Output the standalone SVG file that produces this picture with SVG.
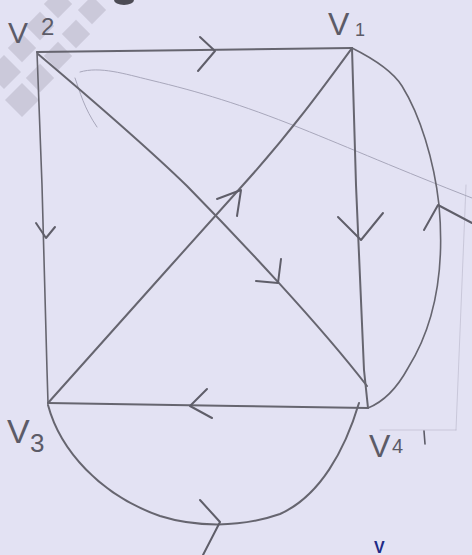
<svg xmlns="http://www.w3.org/2000/svg" width="472" height="555" viewBox="0 0 472 555">
<style>
.edge{fill:none;stroke:#66656f;stroke-width:2;stroke-linecap:round;stroke-linejoin:round}
.thin{stroke-width:1.6}
.arrow{fill:none;stroke:#5f5e69;stroke-width:2;stroke-linecap:round;stroke-linejoin:round}
.stray{fill:none;stroke:#a8a7bb;stroke-width:1;stroke-linecap:round}
.lbl{font-family:"Liberation Sans","DejaVu Sans",sans-serif;fill:#5c5b67}
.wm{fill:#c6c4d4;opacity:0.8}
</style>
<rect x="0" y="0" width="472" height="555" fill="#e3e2f3"/>
<g id="background-marks">
  <g class="wm">
    <rect x="-12" y="-12" width="24" height="24" transform="translate(22 100) rotate(45)"/>
    <rect x="-12" y="-12" width="24" height="24" transform="translate(4 72) rotate(45)"/>
    <rect x="-10" y="-10" width="20" height="20" transform="translate(40 78) rotate(45)"/>
    <rect x="-10" y="-10" width="20" height="20" transform="translate(22 48) rotate(45)"/>
    <rect x="-10" y="-10" width="20" height="20" transform="translate(58 56) rotate(45)"/>
    <rect x="-10" y="-10" width="20" height="20" transform="translate(40 26) rotate(45)"/>
    <rect x="-10" y="-10" width="20" height="20" transform="translate(76 34) rotate(45)"/>
    <rect x="-10" y="-10" width="20" height="20" transform="translate(58 4) rotate(45)"/>
    <rect x="-10" y="-10" width="20" height="20" transform="translate(92 10) rotate(45)"/>
  </g>
  <ellipse cx="124" cy="0" rx="10" ry="5" fill="#4d4c55"/>
  <path class="stray" d="M80,72 C100,66 125,74 150,80 C200,92 240,104 300,128 C350,148 400,170 472,198"/>
  <path class="stray" d="M75,78 C80,92 84,108 97,127"/>
  <path class="stray" d="M466,185 L456,430 M380,430 L456,430" opacity="0.45"/>
  <text x="374" y="553" font-family="Liberation Sans, sans-serif" font-size="16" font-weight="bold" fill="#1e2a86">V</text>
</g>
<g id="connectors">
  <path id="e-v2-v1" class="edge" d="M37,52 L200,50 L352,48"/>
  <path id="e-v2-v3" class="edge thin" d="M37,52 L42,185 L47,370 L48,403"/>
  <path id="e-v2-v4" class="edge" d="M38,54 C90,98 150,150 187,186 C240,240 320,325 367,386"/>
  <path id="e-v3-v1" class="edge" d="M48,403 C100,345 180,255 243,185 C290,133 325,85 352,48"/>
  <path id="e-v1-v4" class="edge" d="M352,48 L356,185 L364,370 L368,408"/>
  <path id="e-v4-v3" class="edge" d="M368,408 L236,406 L48,403"/>
  <path id="e-v4-v1" class="edge thin" d="M368,408 C383,402 396,390 408,368 C438,320 444,260 439,205 C434,160 420,115 402,86 C392,70 372,58 352,48"/>
  <path id="e-v3-v4" class="edge" d="M48,405 C60,450 100,495 160,516 C195,527 240,528 280,514 C320,496 345,450 359,403"/>
  <g id="arrowheads">
    <path class="arrow" d="M200,37 L215,51 L198,71"/>
    <path class="arrow" d="M36,223 L46,238 L55,227"/>
    <path class="arrow" d="M217,199 L241,190 L237,216"/>
    <path class="arrow" d="M281,259 L278,283 L256,281"/>
    <path class="arrow" d="M338,217 L361,240 L383,213"/>
    <path class="arrow" d="M207,389 L190,406 L212,418"/>
    <path class="arrow" d="M424,230 L438,205 L472,223"/>
    <path class="arrow" d="M200,500 L220,522 L203,555"/>
  </g>
</g>
<g id="node-v2">
  <text class="lbl" x="8" y="43" font-size="30">V</text>
  <text class="lbl" x="41" y="35" font-size="24">2</text>
</g>
<g id="node-v1">
  <text class="lbl" x="328" y="35" font-size="32">V</text>
  <text class="lbl" x="355" y="36" font-size="18">1</text>
</g>
<g id="node-v3">
  <text class="lbl" x="7" y="443" font-size="34">V</text>
  <text class="lbl" x="30" y="452" font-size="26">3</text>
</g>
<g id="node-v4">
  <text class="lbl" x="369" y="457" font-size="32">V</text>
  <text class="lbl" x="392" y="453" font-size="20">4</text>
  <path d="M424,431 L425,444" stroke="#5c5b67" stroke-width="1.6" stroke-linecap="round"/>
</g>
</svg>
